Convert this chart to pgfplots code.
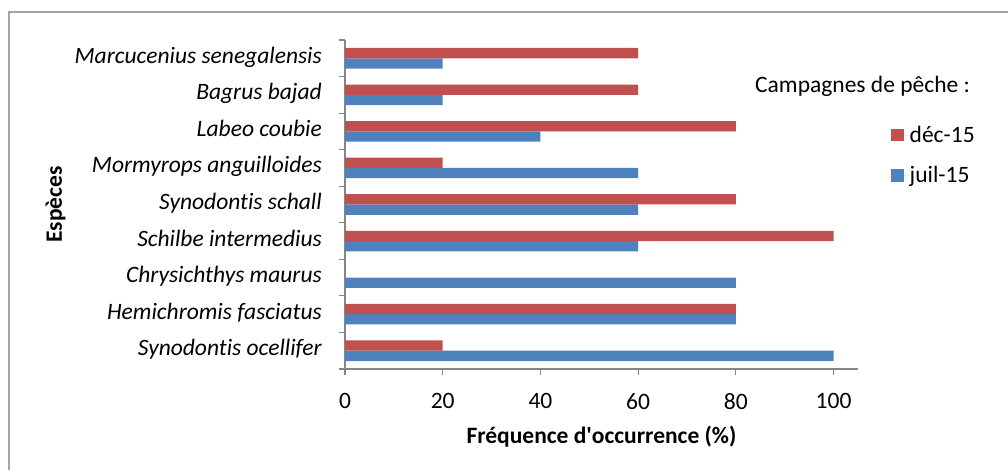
\documentclass[border=0pt]{standalone}
\usepackage{fontspec}
\setmainfont{Carlito}[RawFeature={-liga;-clig;-calt}]
\usepackage{pgfplots}
\pgfplotsset{compat=1.18}
\definecolor{decred}{HTML}{C0504D}
\definecolor{juilblue}{HTML}{4F81BD}
\definecolor{axisgray}{HTML}{868686}
\definecolor{framegray}{HTML}{A6A6A6}
\newcommand{\chartfont}{\fontsize{23.5}{28}\selectfont}

\begin{document}
\begin{tikzpicture}[x=1pt,y=1pt]
\useasboundingbox (0,0) rectangle (1008,470);
% chart area border
\draw[framegray, line width=1.2pt] (9,-30) rectangle (1040,458);

\begin{axis}[
  at={(345pt,101pt)}, anchor=south west,
  scale only axis, width=513pt, height=329pt,
  xbar=0pt, bar width=10.3pt,
  xmin=0, xmax=105, ymin=-0.5, ymax=8.5,
  axis x line=bottom, axis y line=left,
  axis line style={-, axisgray, line width=1.1pt},
  x axis line style={-}, y axis line style={-},
  tick align=outside, major tick length=6pt,
  tick style={axisgray, line width=1.1pt},
  xtick={0,20,...,100},
  ytick={-0.5,0.5,...,8.5},
  y tick label as interval,
  yticklabels={Synodontis ocellifer, Hemichromis fasciatus, Chrysichthys maurus,
    Schilbe intermedius, Synodontis schall, Mormyrops anguilloides,
    Labeo coubie, Bagrus bajad, Marcucenius senegalensis},
  /pgf/number format/assume math mode=true,
  ticklabel style={font=\chartfont, text=black},
  xticklabel style={anchor=north, inner sep=0pt, yshift=-18pt},
  yticklabel style={font=\chartfont\itshape, anchor=base east, inner sep=0pt, xshift=-17pt, yshift=-5pt},
  xlabel={Fréquence d\textquotesingle occurrence (\%)},
  xlabel style={font=\chartfont\bfseries, at={(axis description cs:0.5,-0.225)}, anchor=base},
  ylabel={Espèces},
  ylabel style={font=\chartfont\bfseries, at={(axis description cs:-0.5517,0.5)}, anchor=base, rotate=0},
  legend style={at={(axis description cs:1.0643,0.7386)}, anchor=north west,
    draw=none, fill=none, inner sep=0pt, row sep=22.5pt,
    font=\chartfont, nodes={inner sep=0pt}},
  legend cell align=left,
  reverse legend,
  legend image code/.code={%
    \draw[#1,draw=none] (0pt,-6.25pt) rectangle (12.5pt,6.25pt);
    \path (0pt,0pt) -- (18.5pt,0pt);},
]
% juil-15 campaign
\addplot[fill=juilblue, draw=none] coordinates {
  (100,0) (80,1) (80,2) (60,3) (60,4) (60,5) (40,6) (20,7) (20,8)};
% déc-15 campaign
\addplot[fill=decred, draw=none] coordinates {
  (20,0) (80,1) (0,2) (100,3) (80,4) (20,5) (80,6) (60,7) (60,8)};
\legend{juil-15, déc-15}
\end{axis}

\node[anchor=base west, font=\chartfont, inner sep=0pt] at (755,377) {Campagnes de pêche :};
\end{tikzpicture}
\end{document}
